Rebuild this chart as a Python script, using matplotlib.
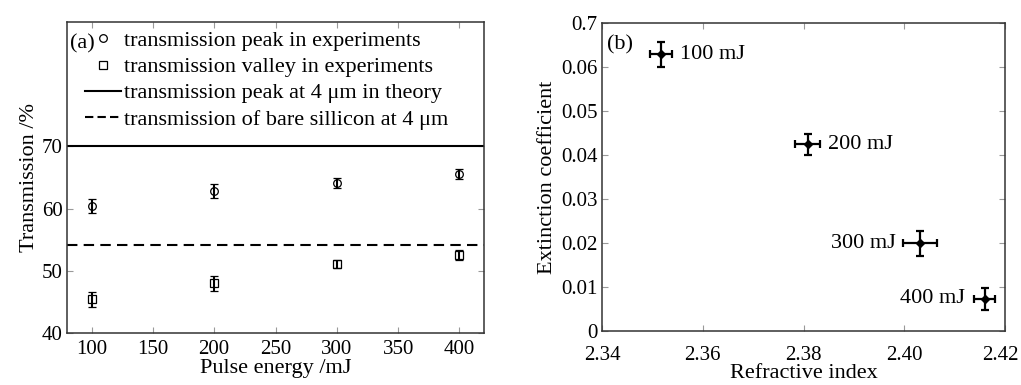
import numpy as np
import matplotlib
matplotlib.use("Agg")
import matplotlib.pyplot as plt
import matplotlib.transforms as mtransforms
from matplotlib.lines import Line2D

plt.rcParams['font.family'] = ['Liberation Serif', 'DejaVu Serif']

# panel (a) data
energy = [100, 200, 300, 400]
peak = [60.4, 62.8, 64.1, 65.5]
peak_err = [1.1, 1.1, 0.8, 0.8]
valley = [45.4, 48.0, 51.1, 52.6]
valley_err = [1.2, 1.2, 0.6, 0.8]
theory_peak = 70.0
bare_si = 54.2

# panel (b) data
n_index = [2.3517, 2.3808, 2.4031, 2.4160]
n_err = [0.0021, 0.0024, 0.0034, 0.0021]
k_ext = [0.0629, 0.0424, 0.0199, 0.0073]
k_err = [0.0028, 0.0024, 0.0028, 0.0025]
point_labels = ["100 mJ", "200 mJ", "300 mJ", "400 mJ"]

xticks_b = [2.34, 2.36, 2.38, 2.40, 2.42]
xticklabels_b = ["2.34", "2.36", "2.38", "2.40", "2.42"]
yticks_b = [0, 0.01, 0.02, 0.03, 0.04, 0.05, 0.06, 0.07]
yticklabels_b = ["0", "0.01", "0.02", "0.03", "0.04", "0.05", "0.06", "0.7"]

FS = 16
TFS = 15
fig = plt.figure(figsize=(10.21, 3.85), dpi=100)
ax1 = fig.add_axes([67/1021, 1-333/385, 417/1021, 311/385])
ax2 = fig.add_axes([602/1021, 1-331/385, 403/1021, 308/385])

for ax in (ax1, ax2):
    for s in ax.spines.values():
        s.set_color('#333333')
        s.set_linewidth(1.1)
    ax.tick_params(direction='in', length=4, width=0.8, color='#999999',
                   labelsize=TFS, top=True, right=True)
    ax.tick_params(axis='y', pad=3)
ax1.tick_params(axis='x', pad=5)
ax2.tick_params(axis='x', pad=11)

# (a)
ax1.errorbar(energy, peak, yerr=peak_err, fmt='o', mfc='none', mec='black',
             ms=5.5, mew=0.9, ecolor='black', elinewidth=1.5, capsize=3, capthick=1.5)
ax1.errorbar(energy, valley, yerr=valley_err, fmt='s', mfc='none', mec='black',
             ms=5.5, mew=0.9, ecolor='black', elinewidth=1.5, capsize=3, capthick=1.5)
ax1.axhline(theory_peak, color='black', lw=1.5)
ax1.axhline(bare_si, color='black', lw=1.5, ls=(0, (5, 3)))
ax1.set_xlim(80, 420)
ax1.set_ylim(40, 90)
ax1.set_xticks([100, 150, 200, 250, 300, 350, 400])
ax1.set_yticks([40, 50, 60, 70])
ax1.set_xlabel("Pulse energy /mJ", fontsize=FS, labelpad=0)
ax1.set_ylabel("Transmission /%", fontsize=FS, labelpad=2)
ax1.text(0.007, 0.93, "(a)", transform=ax1.transAxes, fontsize=FS, va='center')

handles = [
    Line2D([], [], marker='o', ls='none', mfc='none', mec='black', ms=5.5, mew=0.9),
    Line2D([], [], marker='s', ls='none', mfc='none', mec='black', ms=5.5, mew=0.9),
    Line2D([], [], color='black', lw=1.5),
    Line2D([], [], color='black', lw=1.5, ls=(0, (4, 2))),
]
labels = ["transmission peak in experiments",
          "transmission valley in experiments",
          "transmission peak at 4 \u03bcm in theory",
          "transmission of bare sillicon at 4 \u03bcm"]
leg = ax1.legend(handles, labels, loc='upper left', bbox_to_anchor=(18/417, 0.972),
                 frameon=False, fontsize=FS, handlelength=1.6, handletextpad=0.15,
                 labelspacing=0.25, borderaxespad=0, borderpad=0)

# (b)
ax2.errorbar(n_index, k_ext, xerr=n_err, yerr=k_err, fmt='D', color='black',
             ms=4, elinewidth=1.6, capsize=3, capthick=1.6)
offsets = [(6, 'left'), (6, 'left'), (-5, 'right'), (-7, 'right')]
for x, y, xe, lab, (dx, ha) in zip(n_index, k_ext, n_err, point_labels, offsets):
    xx = x + xe if ha == 'left' else x - xe
    ax2.annotate(lab, (xx, y), xytext=(dx, 0), textcoords='offset points',
                 ha=ha, va='center', fontsize=FS)
ax2.set_xlim(2.34, 2.42)
ax2.set_ylim(0, 0.07)
ax2.set_xticks(xticks_b)
ax2.set_xticklabels(xticklabels_b)
ax2.set_yticks(yticks_b)
ax2.set_yticklabels(yticklabels_b)
ax2.set_xlabel("Refractive index", fontsize=FS, labelpad=-1)
ax2.set_ylabel("Extinction coefficient", fontsize=FS, labelpad=3)
ax2.text(0.013, 0.93, "(b)", transform=ax2.transAxes, fontsize=FS, va='center')

# nudge the last x label in so it stays inside the figure
last = ax2.get_xticklabels()[-1]
last.set_transform(last.get_transform() +
                   mtransforms.ScaledTranslation(-5/100, 0, fig.dpi_scale_trans))

fig.savefig("out.png", dpi=100)
